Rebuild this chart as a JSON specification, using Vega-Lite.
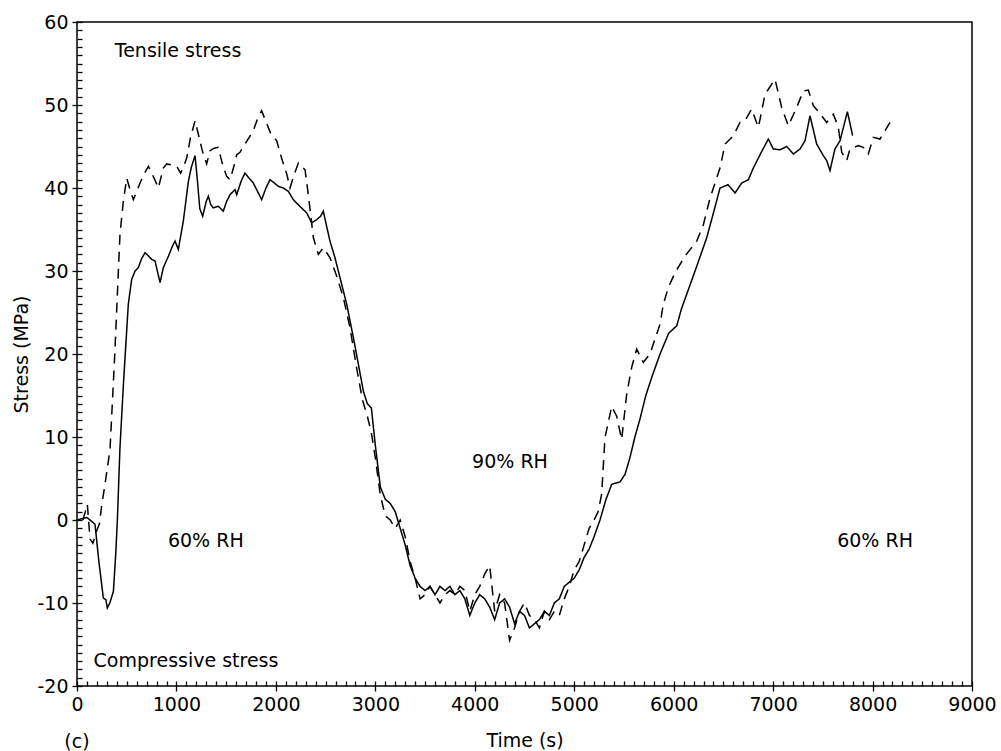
{
  "$schema": "https://vega.github.io/schema/vega-lite/v6.json",
  "width": 895,
  "height": 664,
  "autosize": {"type": "none"},
  "padding": {"left": 77, "top": 22, "right": 29, "bottom": 65},
  "background": "white",
  "config": {
    "view": {"stroke": "black", "strokeWidth": 1.5},
    "font": "DejaVu Sans",
    "axis": {"grid": false, "domain": false, "ticks": true, "tickColor": "black", "tickWidth": 1.3, "labelColor": "black", "titleColor": "black", "labelFont": "DejaVu Sans", "titleFont": "DejaVu Sans", "labelFontSize": 19, "titleFontSize": 19, "titleFontWeight": "normal"}
  },
  "datasets": {
    "curves": [
      {"t":0,"v":0,"s":"solid"},{"t":60,"v":0.2,"s":"solid"},{"t":100,"v":0.3,"s":"solid"},{"t":150,"v":-0.2,"s":"solid"},{"t":181,"v":-0.5,"s":"solid"},{"t":220,"v":-5,"s":"solid"},{"t":265,"v":-9.4,"s":"solid"},{"t":290,"v":-9.6,"s":"solid"},{"t":305,"v":-10.6,"s":"solid"},{"t":330,"v":-10,"s":"solid"},{"t":366,"v":-8.6,"s":"solid"},{"t":390,"v":-4,"s":"solid"},{"t":406,"v":0,"s":"solid"},{"t":432,"v":8.7,"s":"solid"},{"t":470,"v":17,"s":"solid"},{"t":516,"v":26,"s":"solid"},{"t":550,"v":29,"s":"solid"},{"t":584,"v":30,"s":"solid"},{"t":617,"v":30.4,"s":"solid"},{"t":650,"v":31.5,"s":"solid"},{"t":684,"v":32.2,"s":"solid"},{"t":720,"v":31.8,"s":"solid"},{"t":751,"v":31.4,"s":"solid"},{"t":785,"v":31.2,"s":"solid"},{"t":835,"v":28.6,"s":"solid"},{"t":868,"v":30.4,"s":"solid"},{"t":920,"v":31.8,"s":"solid"},{"t":960,"v":33,"s":"solid"},{"t":986,"v":33.6,"s":"solid"},{"t":1019,"v":32.6,"s":"solid"},{"t":1069,"v":36,"s":"solid"},{"t":1120,"v":40.8,"s":"solid"},{"t":1150,"v":42.5,"s":"solid"},{"t":1187,"v":43.9,"s":"solid"},{"t":1210,"v":41,"s":"solid"},{"t":1235,"v":37.5,"s":"solid"},{"t":1264,"v":36.6,"s":"solid"},{"t":1300,"v":38.4,"s":"solid"},{"t":1321,"v":39,"s":"solid"},{"t":1345,"v":38,"s":"solid"},{"t":1371,"v":37.6,"s":"solid"},{"t":1421,"v":37.8,"s":"solid"},{"t":1471,"v":37.2,"s":"solid"},{"t":1505,"v":38.4,"s":"solid"},{"t":1539,"v":39.2,"s":"solid"},{"t":1589,"v":39.8,"s":"solid"},{"t":1606,"v":39.2,"s":"solid"},{"t":1650,"v":40.8,"s":"solid"},{"t":1689,"v":41.8,"s":"solid"},{"t":1730,"v":41.2,"s":"solid"},{"t":1773,"v":40.6,"s":"solid"},{"t":1815,"v":39.6,"s":"solid"},{"t":1857,"v":38.6,"s":"solid"},{"t":1900,"v":40,"s":"solid"},{"t":1941,"v":41,"s":"solid"},{"t":1985,"v":40.6,"s":"solid"},{"t":2025,"v":40.2,"s":"solid"},{"t":2075,"v":40,"s":"solid"},{"t":2125,"v":39.6,"s":"solid"},{"t":2175,"v":38.6,"s":"solid"},{"t":2240,"v":37.8,"s":"solid"},{"t":2310,"v":37,"s":"solid"},{"t":2360,"v":35.8,"s":"solid"},{"t":2411,"v":36.2,"s":"solid"},{"t":2450,"v":36.6,"s":"solid"},{"t":2477,"v":37.2,"s":"solid"},{"t":2510,"v":35.4,"s":"solid"},{"t":2544,"v":33.6,"s":"solid"},{"t":2594,"v":31.6,"s":"solid"},{"t":2645,"v":29.2,"s":"solid"},{"t":2712,"v":26,"s":"solid"},{"t":2779,"v":22,"s":"solid"},{"t":2829,"v":18.8,"s":"solid"},{"t":2880,"v":15.5,"s":"solid"},{"t":2920,"v":14,"s":"solid"},{"t":2960,"v":13.5,"s":"solid"},{"t":3000,"v":9,"s":"solid"},{"t":3050,"v":4,"s":"solid"},{"t":3100,"v":2.5,"s":"solid"},{"t":3150,"v":2,"s":"solid"},{"t":3200,"v":1,"s":"solid"},{"t":3250,"v":-1,"s":"solid"},{"t":3300,"v":-3,"s":"solid"},{"t":3350,"v":-5.5,"s":"solid"},{"t":3400,"v":-7,"s":"solid"},{"t":3450,"v":-8,"s":"solid"},{"t":3500,"v":-8.5,"s":"solid"},{"t":3550,"v":-8,"s":"solid"},{"t":3600,"v":-9,"s":"solid"},{"t":3650,"v":-8,"s":"solid"},{"t":3700,"v":-8.5,"s":"solid"},{"t":3750,"v":-8,"s":"solid"},{"t":3800,"v":-9,"s":"solid"},{"t":3850,"v":-8.5,"s":"solid"},{"t":3900,"v":-9.5,"s":"solid"},{"t":3950,"v":-11.5,"s":"solid"},{"t":4000,"v":-10,"s":"solid"},{"t":4050,"v":-9,"s":"solid"},{"t":4100,"v":-9.5,"s":"solid"},{"t":4150,"v":-10.5,"s":"solid"},{"t":4200,"v":-12,"s":"solid"},{"t":4250,"v":-10,"s":"solid"},{"t":4300,"v":-9.5,"s":"solid"},{"t":4350,"v":-10.5,"s":"solid"},{"t":4400,"v":-12.5,"s":"solid"},{"t":4450,"v":-11,"s":"solid"},{"t":4500,"v":-11.5,"s":"solid"},{"t":4550,"v":-13,"s":"solid"},{"t":4600,"v":-12.5,"s":"solid"},{"t":4650,"v":-12,"s":"solid"},{"t":4700,"v":-11,"s":"solid"},{"t":4750,"v":-11.5,"s":"solid"},{"t":4800,"v":-10,"s":"solid"},{"t":4850,"v":-9.5,"s":"solid"},{"t":4900,"v":-8,"s":"solid"},{"t":4950,"v":-7.5,"s":"solid"},{"t":5000,"v":-7,"s":"solid"},{"t":5050,"v":-6,"s":"solid"},{"t":5100,"v":-4.5,"s":"solid"},{"t":5150,"v":-3.5,"s":"solid"},{"t":5200,"v":-2,"s":"solid"},{"t":5259,"v":0,"s":"solid"},{"t":5320,"v":2.5,"s":"solid"},{"t":5377,"v":4.3,"s":"solid"},{"t":5461,"v":4.6,"s":"solid"},{"t":5511,"v":5.5,"s":"solid"},{"t":5560,"v":7.5,"s":"solid"},{"t":5610,"v":10,"s":"solid"},{"t":5662,"v":12.2,"s":"solid"},{"t":5720,"v":15,"s":"solid"},{"t":5780,"v":17.2,"s":"solid"},{"t":5863,"v":20,"s":"solid"},{"t":5950,"v":22.5,"s":"solid"},{"t":6031,"v":23.4,"s":"solid"},{"t":6080,"v":25.5,"s":"solid"},{"t":6131,"v":27.2,"s":"solid"},{"t":6230,"v":30.5,"s":"solid"},{"t":6332,"v":34,"s":"solid"},{"t":6400,"v":37,"s":"solid"},{"t":6466,"v":40,"s":"solid"},{"t":6547,"v":40.4,"s":"solid"},{"t":6617,"v":39.4,"s":"solid"},{"t":6684,"v":40.6,"s":"solid"},{"t":6751,"v":41,"s":"solid"},{"t":6801,"v":42.4,"s":"solid"},{"t":6868,"v":44,"s":"solid"},{"t":6952,"v":45.9,"s":"solid"},{"t":7002,"v":44.7,"s":"solid"},{"t":7069,"v":44.6,"s":"solid"},{"t":7137,"v":45,"s":"solid"},{"t":7204,"v":44.1,"s":"solid"},{"t":7271,"v":44.7,"s":"solid"},{"t":7321,"v":45.7,"s":"solid"},{"t":7371,"v":48.7,"s":"solid"},{"t":7438,"v":45.3,"s":"solid"},{"t":7505,"v":43.9,"s":"solid"},{"t":7539,"v":43.3,"s":"solid"},{"t":7572,"v":42.1,"s":"solid"},{"t":7622,"v":44.7,"s":"solid"},{"t":7673,"v":45.7,"s":"solid"},{"t":7747,"v":49.2,"s":"solid"},{"t":7800,"v":46.3,"s":"solid"},
      {"t":60,"v":0,"s":"dashed"},{"t":104,"v":1.9,"s":"dashed"},{"t":131,"v":-2.3,"s":"dashed"},{"t":160,"v":-2.8,"s":"dashed"},{"t":198,"v":-1.3,"s":"dashed"},{"t":225,"v":-0.5,"s":"dashed"},{"t":248,"v":1.7,"s":"dashed"},{"t":290,"v":5,"s":"dashed"},{"t":332,"v":8.5,"s":"dashed"},{"t":380,"v":20,"s":"dashed"},{"t":432,"v":34.4,"s":"dashed"},{"t":466,"v":38.4,"s":"dashed"},{"t":500,"v":41.2,"s":"dashed"},{"t":533,"v":39.8,"s":"dashed"},{"t":567,"v":38.6,"s":"dashed"},{"t":600,"v":39.6,"s":"dashed"},{"t":634,"v":40.6,"s":"dashed"},{"t":680,"v":41.8,"s":"dashed"},{"t":718,"v":42.6,"s":"dashed"},{"t":751,"v":41.8,"s":"dashed"},{"t":790,"v":40.8,"s":"dashed"},{"t":818,"v":40,"s":"dashed"},{"t":868,"v":42.4,"s":"dashed"},{"t":902,"v":42.9,"s":"dashed"},{"t":950,"v":42.8,"s":"dashed"},{"t":1003,"v":42.6,"s":"dashed"},{"t":1042,"v":41.8,"s":"dashed"},{"t":1070,"v":42.5,"s":"dashed"},{"t":1103,"v":43.6,"s":"dashed"},{"t":1140,"v":46,"s":"dashed"},{"t":1187,"v":48.1,"s":"dashed"},{"t":1220,"v":46.5,"s":"dashed"},{"t":1260,"v":44.5,"s":"dashed"},{"t":1304,"v":42.9,"s":"dashed"},{"t":1338,"v":44.5,"s":"dashed"},{"t":1380,"v":44.8,"s":"dashed"},{"t":1421,"v":44.9,"s":"dashed"},{"t":1460,"v":43,"s":"dashed"},{"t":1505,"v":41.4,"s":"dashed"},{"t":1539,"v":41,"s":"dashed"},{"t":1575,"v":42.5,"s":"dashed"},{"t":1606,"v":44,"s":"dashed"},{"t":1639,"v":44.3,"s":"dashed"},{"t":1700,"v":45.5,"s":"dashed"},{"t":1773,"v":46.9,"s":"dashed"},{"t":1820,"v":48.5,"s":"dashed"},{"t":1857,"v":49.3,"s":"dashed"},{"t":1900,"v":48,"s":"dashed"},{"t":1950,"v":46.5,"s":"dashed"},{"t":2008,"v":45.7,"s":"dashed"},{"t":2060,"v":43.5,"s":"dashed"},{"t":2109,"v":41.7,"s":"dashed"},{"t":2142,"v":40,"s":"dashed"},{"t":2180,"v":41.5,"s":"dashed"},{"t":2226,"v":43,"s":"dashed"},{"t":2293,"v":42.2,"s":"dashed"},{"t":2326,"v":39.2,"s":"dashed"},{"t":2377,"v":34,"s":"dashed"},{"t":2427,"v":32,"s":"dashed"},{"t":2477,"v":32.8,"s":"dashed"},{"t":2544,"v":31.6,"s":"dashed"},{"t":2611,"v":29.4,"s":"dashed"},{"t":2678,"v":26.8,"s":"dashed"},{"t":2745,"v":23.2,"s":"dashed"},{"t":2812,"v":18.3,"s":"dashed"},{"t":2870,"v":14.5,"s":"dashed"},{"t":2920,"v":12.5,"s":"dashed"},{"t":2960,"v":10.5,"s":"dashed"},{"t":3000,"v":7.5,"s":"dashed"},{"t":3050,"v":3,"s":"dashed"},{"t":3100,"v":0.5,"s":"dashed"},{"t":3150,"v":0,"s":"dashed"},{"t":3200,"v":-1,"s":"dashed"},{"t":3250,"v":0,"s":"dashed"},{"t":3300,"v":-2,"s":"dashed"},{"t":3350,"v":-5,"s":"dashed"},{"t":3400,"v":-7,"s":"dashed"},{"t":3450,"v":-9.5,"s":"dashed"},{"t":3500,"v":-9,"s":"dashed"},{"t":3550,"v":-8,"s":"dashed"},{"t":3600,"v":-9,"s":"dashed"},{"t":3650,"v":-10,"s":"dashed"},{"t":3700,"v":-9,"s":"dashed"},{"t":3750,"v":-8.5,"s":"dashed"},{"t":3800,"v":-9,"s":"dashed"},{"t":3850,"v":-8,"s":"dashed"},{"t":3900,"v":-8.5,"s":"dashed"},{"t":3950,"v":-11,"s":"dashed"},{"t":4000,"v":-9,"s":"dashed"},{"t":4050,"v":-8,"s":"dashed"},{"t":4100,"v":-6.5,"s":"dashed"},{"t":4150,"v":-5.5,"s":"dashed"},{"t":4200,"v":-11,"s":"dashed"},{"t":4250,"v":-9,"s":"dashed"},{"t":4300,"v":-10,"s":"dashed"},{"t":4350,"v":-14.5,"s":"dashed"},{"t":4400,"v":-13,"s":"dashed"},{"t":4450,"v":-11,"s":"dashed"},{"t":4500,"v":-10,"s":"dashed"},{"t":4550,"v":-11.5,"s":"dashed"},{"t":4600,"v":-12,"s":"dashed"},{"t":4650,"v":-13,"s":"dashed"},{"t":4700,"v":-11,"s":"dashed"},{"t":4750,"v":-12,"s":"dashed"},{"t":4800,"v":-11,"s":"dashed"},{"t":4850,"v":-11.5,"s":"dashed"},{"t":4900,"v":-9.5,"s":"dashed"},{"t":4950,"v":-8,"s":"dashed"},{"t":5000,"v":-6,"s":"dashed"},{"t":5050,"v":-5,"s":"dashed"},{"t":5100,"v":-3,"s":"dashed"},{"t":5150,"v":-1,"s":"dashed"},{"t":5200,"v":0,"s":"dashed"},{"t":5240,"v":1,"s":"dashed"},{"t":5276,"v":3.1,"s":"dashed"},{"t":5309,"v":9.9,"s":"dashed"},{"t":5377,"v":13.7,"s":"dashed"},{"t":5427,"v":12.5,"s":"dashed"},{"t":5477,"v":9.7,"s":"dashed"},{"t":5528,"v":15.2,"s":"dashed"},{"t":5578,"v":18.4,"s":"dashed"},{"t":5628,"v":20.6,"s":"dashed"},{"t":5695,"v":19,"s":"dashed"},{"t":5762,"v":20,"s":"dashed"},{"t":5863,"v":23.6,"s":"dashed"},{"t":5896,"v":26,"s":"dashed"},{"t":5946,"v":28,"s":"dashed"},{"t":6014,"v":29.8,"s":"dashed"},{"t":6114,"v":31.8,"s":"dashed"},{"t":6232,"v":33.6,"s":"dashed"},{"t":6299,"v":35.6,"s":"dashed"},{"t":6366,"v":38.8,"s":"dashed"},{"t":6466,"v":42.4,"s":"dashed"},{"t":6517,"v":45.3,"s":"dashed"},{"t":6600,"v":46.3,"s":"dashed"},{"t":6667,"v":47.9,"s":"dashed"},{"t":6717,"v":48.1,"s":"dashed"},{"t":6784,"v":49.5,"s":"dashed"},{"t":6852,"v":47.3,"s":"dashed"},{"t":6919,"v":51.3,"s":"dashed"},{"t":7019,"v":53.1,"s":"dashed"},{"t":7086,"v":49.7,"s":"dashed"},{"t":7153,"v":47.5,"s":"dashed"},{"t":7237,"v":49.7,"s":"dashed"},{"t":7304,"v":51.7,"s":"dashed"},{"t":7354,"v":51.8,"s":"dashed"},{"t":7405,"v":49.9,"s":"dashed"},{"t":7470,"v":49,"s":"dashed"},{"t":7539,"v":47.9,"s":"dashed"},{"t":7606,"v":48.9,"s":"dashed"},{"t":7656,"v":47.3,"s":"dashed"},{"t":7690,"v":44.3,"s":"dashed"},{"t":7740,"v":43.3,"s":"dashed"},{"t":7773,"v":44.7,"s":"dashed"},{"t":7857,"v":45.1,"s":"dashed"},{"t":7907,"v":44.9,"s":"dashed"},{"t":7957,"v":44.1,"s":"dashed"},{"t":8008,"v":46.1,"s":"dashed"},{"t":8075,"v":45.9,"s":"dashed"},{"t":8176,"v":47.9,"s":"dashed"}
    ],
    "notes": [
      {"t":1016,"v":56.5,"label":"Tensile stress"},
      {"t":1096,"v":-17,"label":"Compressive stress"},
      {"t":1295,"v":-2.5,"label":"60% RH"},
      {"t":4354,"v":7,"label":"90% RH"},
      {"t":8025,"v":-2.5,"label":"60% RH"},
      {"t":0,"v":-26.8,"label":"(c)"}
    ]
  },
  "layer": [
    {
      "data": {"name": "curves"},
      "mark": {"type": "line", "color": "black", "strokeWidth": 1.5},
      "encoding": {
        "x": {"field": "t", "type": "quantitative", "scale": {"domain": [0, 9000], "nice": false},
          "axis": {"title": "Time (s)", "orient": "bottom", "tickCount": 100, "offset": -5,
            "values": [0,100,200,300,400,500,600,700,800,900,1000,1100,1200,1300,1400,1500,1600,1700,1800,1900,2000,2100,2200,2300,2400,2500,2600,2700,2800,2900,3000,3100,3200,3300,3400,3500,3600,3700,3800,3900,4000,4100,4200,4300,4400,4500,4600,4700,4800,4900,5000,5100,5200,5300,5400,5500,5600,5700,5800,5900,6000,6100,6200,6300,6400,6500,6600,6700,6800,6900,7000,7100,7200,7300,7400,7500,7600,7700,7800,7900,8000,8100,8200,8300,8400,8500,8600,8700,8800,8900,9000],
            "labelExpr": "datum.value % 1000 === 0 ? '' + datum.value : ''",
            "tickSize": {"condition": {"test": "datum.value % 1000 === 0", "value": 10}, "value": 5},
            "labelPadding": 4, "labelFlush": false, "labelOverlap": false, "titlePadding": 17}},
        "y": {"field": "v", "type": "quantitative", "scale": {"domain": [-20, 60], "nice": false},
          "axis": {"title": "Stress (MPa)", "orient": "left", "tickCount": 100, "offset": -5,
            "values": [-20,-19,-18,-17,-16,-15,-14,-13,-12,-11,-10,-9,-8,-7,-6,-5,-4,-3,-2,-1,0,1,2,3,4,5,6,7,8,9,10,11,12,13,14,15,16,17,18,19,20,21,22,23,24,25,26,27,28,29,30,31,32,33,34,35,36,37,38,39,40,41,42,43,44,45,46,47,48,49,50,51,52,53,54,55,56,57,58,59,60],
            "labelExpr": "datum.value % 10 !== 0 ? '' : (datum.value < 0 ? '-' + (-datum.value) : '' + datum.value)",
            "tickSize": {"condition": {"test": "datum.value % 10 === 0", "value": 10}, "value": 5},
            "labelPadding": 4, "labelOverlap": false, "titlePadding": 5}},
        "strokeDash": {"field": "s", "type": "nominal", "scale": {"domain": ["solid", "dashed"], "range": [[1, 0], [10, 7]]}, "legend": null},
        "order": {"field": "t", "type": "quantitative"}
      }
    },
    {
      "mark": {"type": "rule", "color": "black", "strokeWidth": 1.5},
      "encoding": {"y": {"datum": 0}}
    },
    {
      "data": {"name": "notes"},
      "mark": {"type": "text", "font": "DejaVu Sans", "fontSize": 19, "color": "black", "align": "center", "baseline": "middle"},
      "encoding": {
        "x": {"field": "t", "type": "quantitative"},
        "y": {"field": "v", "type": "quantitative"},
        "text": {"field": "label"}
      }
    }
  ]
}
